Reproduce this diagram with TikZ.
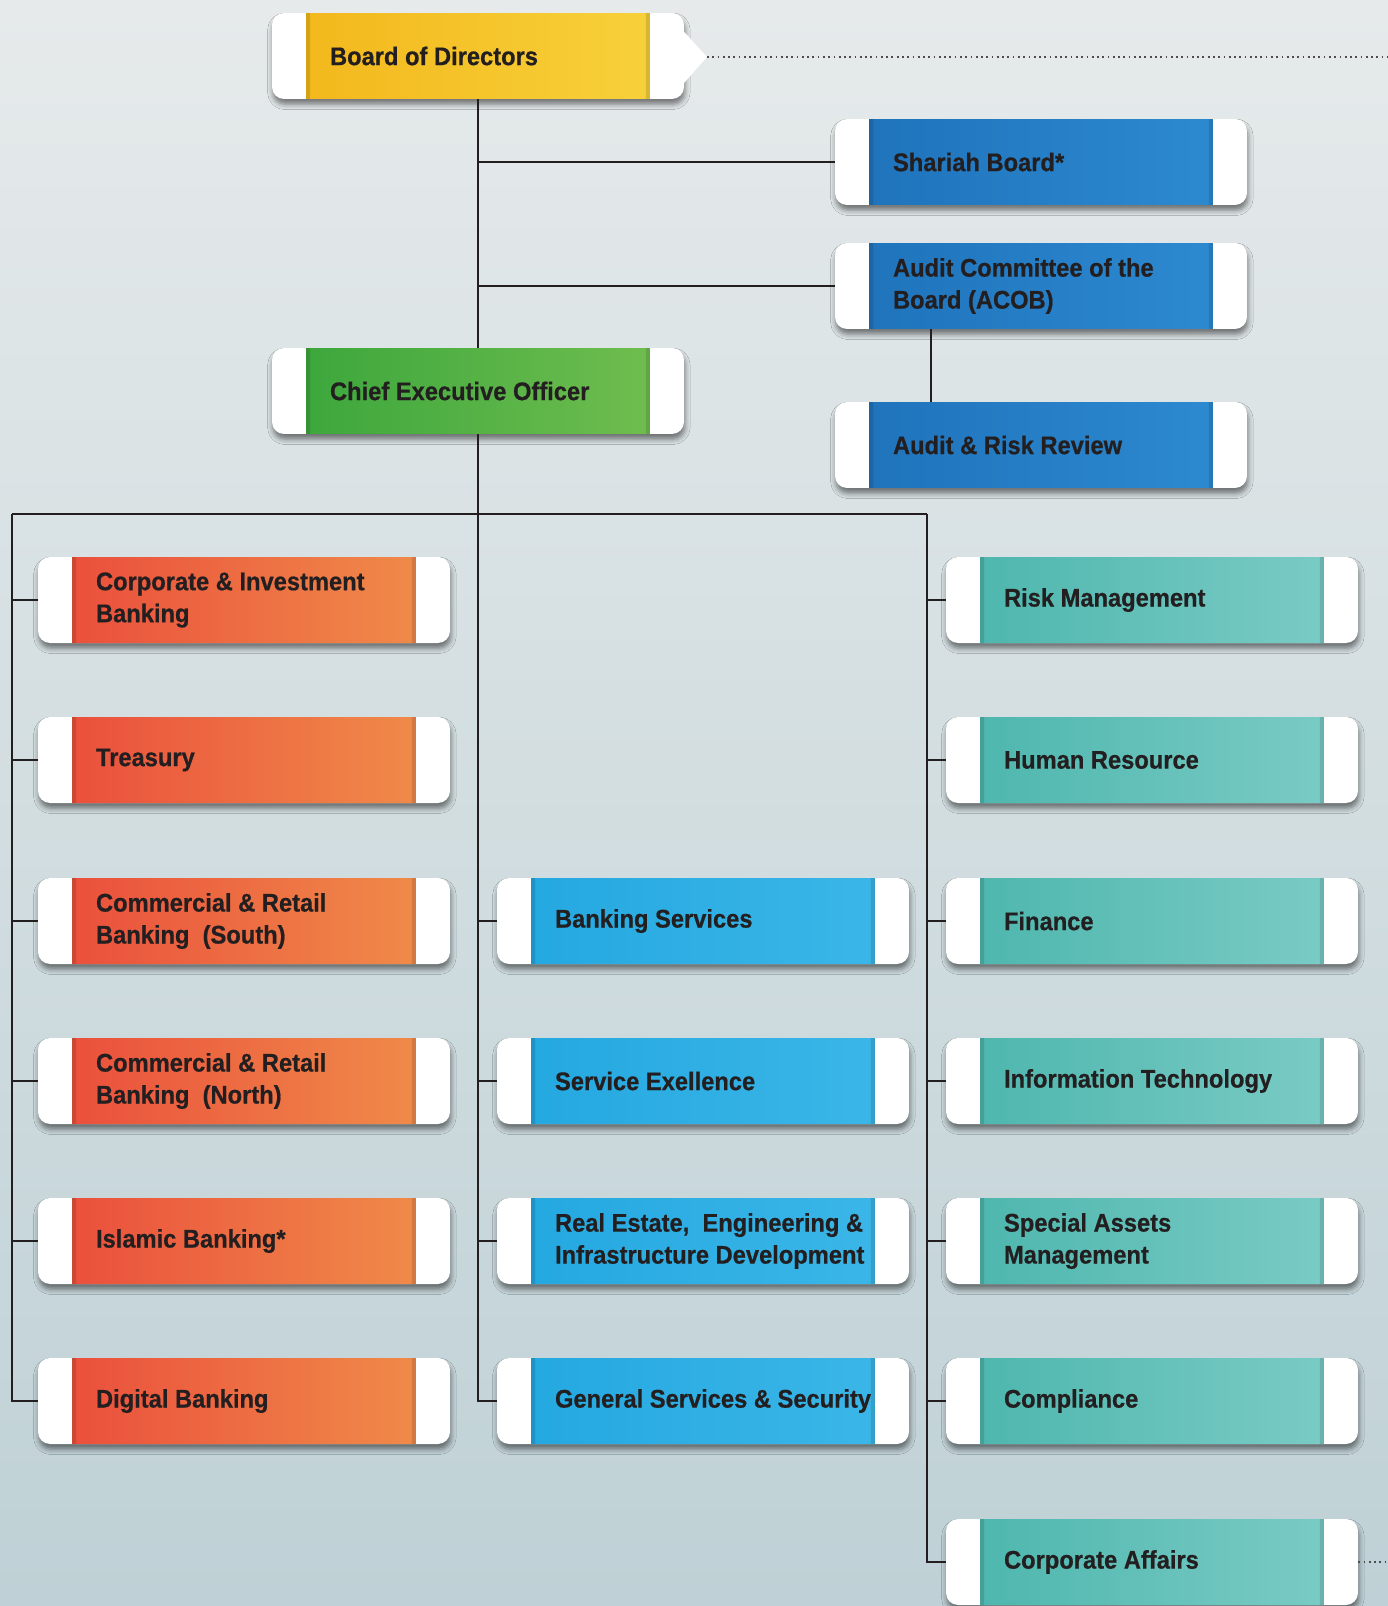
\documentclass[tikz,border=0pt]{standalone}
\usepackage{fontspec}
\setmainfont{Liberation Sans}[FakeStretch=0.93, BoldFeatures={FakeBold=0.6}]
\usetikzlibrary{shadows.blur}

\definecolor{bgtop}{HTML}{E6EAEB}
\definecolor{bgbot}{HTML}{BFD1D6}
\definecolor{yelA}{HTML}{F2B61A}
\definecolor{yelB}{HTML}{F8D33C}
\definecolor{grnA}{HTML}{38A53B}
\definecolor{grnB}{HTML}{74BF50}
\definecolor{dblA}{HTML}{1E72BA}
\definecolor{dblB}{HTML}{2E8BD2}
\definecolor{oraA}{HTML}{EA4A3B}
\definecolor{oraB}{HTML}{F0904A}
\definecolor{cynA}{HTML}{22A7E0}
\definecolor{cynB}{HTML}{3DB7E8}
\definecolor{tealA}{HTML}{4AB5AC}
\definecolor{tealB}{HTML}{7ECDC7}
\definecolor{ink}{HTML}{231F20}

\tikzset{
  card/.style 2 args={rectangle, rounded corners=0.24cm, fill=white,
    minimum width=8.24cm, minimum height=1.72cm, inner sep=0pt,
    blur shadow={shadow xshift=0.5pt, shadow yshift=-3pt, shadow blur radius=3pt, shadow opacity=50},
    path picture={
      \shade[sharp corners, left color=#1, right color=#2]
        ([xshift=0.68cm]path picture bounding box.south west) rectangle ([xshift=-0.68cm]path picture bounding box.north east);
      \fill[sharp corners, black, opacity=.12]
        ([xshift=0.68cm]path picture bounding box.south west) rectangle ([xshift=0.76cm]path picture bounding box.north west)
        ([xshift=-0.68cm]path picture bounding box.north east) rectangle ([xshift=-0.76cm]path picture bounding box.south east);
    }},
  lbl/.style={anchor=west, xshift=1.16cm, align=left, inner sep=0pt, text=ink,
    font=\fontsize{14.5}{18.2}\selectfont\bfseries},
  link/.style={line width=1.1pt, draw=ink},
  dots/.style={dotted, line width=1pt, draw=black!70},
}

\begin{document}
\begin{tikzpicture}[x=0.02cm, y=-0.02cm]
  \useasboundingbox (0,0) rectangle (1388,1606);
  \shade[top color=bgtop, bottom color=bgbot] (0,0) rectangle (1388,1606);

  % board level
  \node[card={yelA}{yelB}, label={[lbl]west:{Board of Directors}}] (bod) at (478,56) {};
  \coordinate (bodtip) at (707,57);
  \coordinate (edgeT) at (1388,57);
  \fill[white] ([xshift=-0.1cm, yshift=-0.28cm]bod.north east) -- (bodtip) -- ([xshift=-0.1cm, yshift=0.22cm]bod.south east) -- cycle;
  \node[card={grnA}{grnB}, label={[lbl]west:{Chief Executive Officer}}] (ceo) at (478,391) {};
  \node[card={dblA}{dblB}, label={[lbl]west:{Shariah Board*}}] (shb) at (1041,162) {};
  \node[card={dblA}{dblB}, label={[lbl]west:{Audit Committee of the\\Board (ACOB)}}] (acob) at (1041,286) {};
  \node[card={dblA}{dblB}, label={[lbl]west:{Audit \& Risk Review}}] (arr) at (1041,445) {};

  % left column
  \node[card={oraA}{oraB}, label={[lbl]west:{Corporate \& Investment\\Banking}}] (cib) at (244,600) {};
  \node[card={oraA}{oraB}, label={[lbl]west:{Treasury}}] (trs) at (244,760) {};
  \node[card={oraA}{oraB}, label={[lbl]west:{Commercial \& Retail\\Banking\ \ (South)}}] (crs) at (244,921) {};
  \node[card={oraA}{oraB}, label={[lbl]west:{Commercial \& Retail\\Banking\ \ (North)}}] (crn) at (244,1081) {};
  \node[card={oraA}{oraB}, label={[lbl]west:{Islamic Banking*}}] (isb) at (244,1241) {};
  \node[card={oraA}{oraB}, label={[lbl]west:{Digital Banking}}] (dgb) at (244,1401) {};

  % middle column
  \node[card={cynA}{cynB}, label={[lbl]west:{Banking Services}}] (bsv) at (703,921) {};
  \node[card={cynA}{cynB}, label={[lbl]west:{Service Exellence}}] (sex) at (703,1081) {};
  \node[card={cynA}{cynB}, label={[lbl]west:{Real Estate,\ \ Engineering \&\\Infrastructure Development}}] (reid) at (703,1241) {};
  \node[card={cynA}{cynB}, label={[lbl]west:{General Services \& Security}}] (gss) at (703,1401) {};

  % right column
  \node[card={tealA}{tealB}, label={[lbl]west:{Risk Management}}] (rsk) at (1152,600) {};
  \node[card={tealA}{tealB}, label={[lbl]west:{Human Resource}}] (hrs) at (1152,760) {};
  \node[card={tealA}{tealB}, label={[lbl]west:{Finance}}] (fin) at (1152,921) {};
  \node[card={tealA}{tealB}, label={[lbl]west:{Information Technology}}] (its) at (1152,1081) {};
  \node[card={tealA}{tealB}, label={[lbl]west:{Special Assets\\Management}}] (sam) at (1152,1241) {};
  \node[card={tealA}{tealB}, label={[lbl]west:{Compliance}}] (cmp) at (1152,1401) {};
  \node[card={tealA}{tealB}, label={[lbl]west:{Corporate Affairs}}] (caf) at (1152,1562) {};
  \coordinate (edgeB) at (1388,1562);

  % connectors
  \coordinate (busL) at (12,514);
  \coordinate (busR) at (927,514);
  \draw[link] (bod.south) -- (ceo.north);
  \draw[link] (bod.south |- shb.west) -- (shb.west);
  \draw[link] (bod.south |- acob.west) -- (acob.west);
  \draw[link] ([xshift=1.92cm]acob.south west) -- ([xshift=1.92cm]arr.north west);
  \draw[link] (ceo.south) |- (gss.west);
  \draw[link] (busL) -- (busR);
  \draw[link] (busL) |- (dgb.west);
  \draw[link] (busR) |- (caf.west);
  \foreach \n in {cib,trs,crs,crn,isb}
    \draw[link] (busL |- \n.west) -- (\n.west);
  \foreach \n in {bsv,sex,reid}
    \draw[link] (ceo.south |- \n.west) -- (\n.west);
  \foreach \n in {rsk,hrs,fin,its,sam,cmp}
    \draw[link] (busR |- \n.west) -- (\n.west);
  \draw[dots] (bodtip) -- (edgeT);
  \draw[dots] (caf.east) -- (edgeB);
\end{tikzpicture}
\end{document}
